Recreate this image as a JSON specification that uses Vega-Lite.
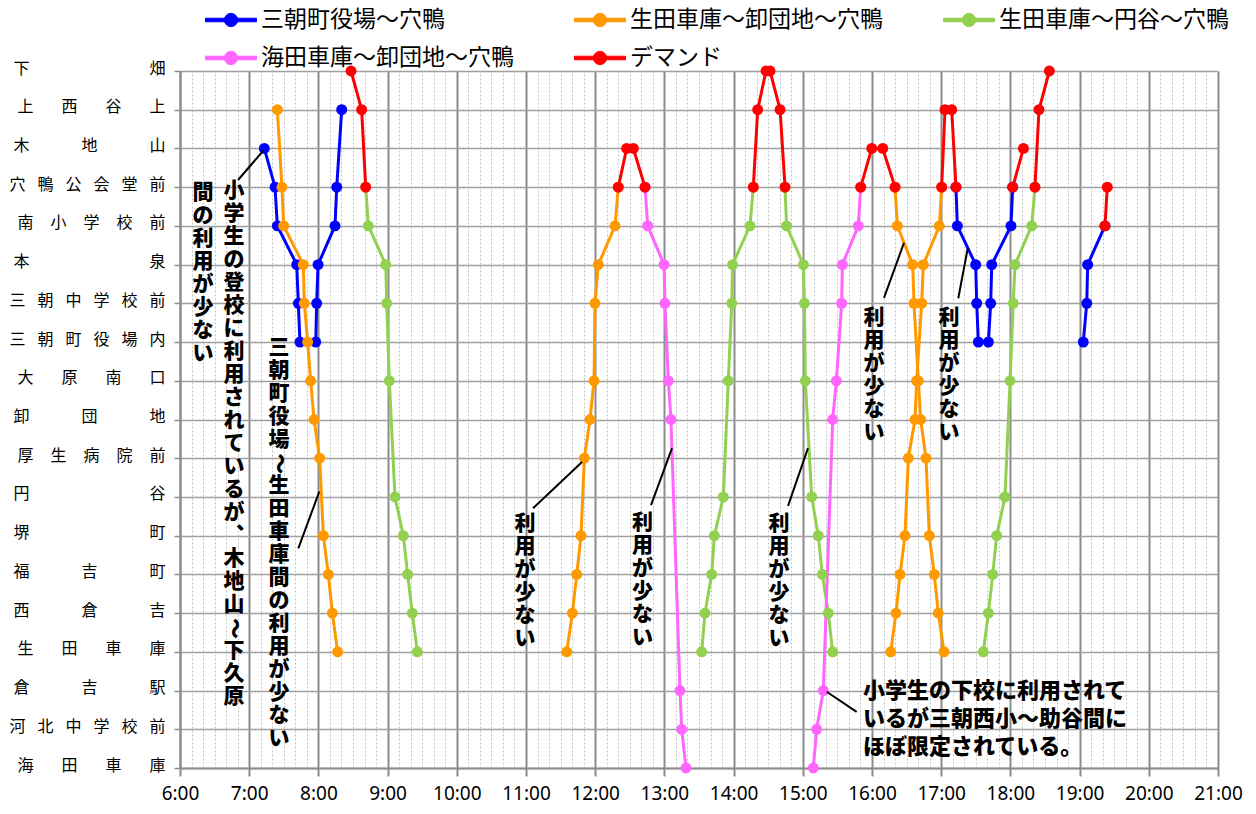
{
  "$schema": "https://vega.github.io/schema/vega-lite/v6.json",
  "width": 1038,
  "height": 697,
  "autosize": {"type": "none"},
  "padding": {"left": 180, "top": 71, "right": 38, "bottom": 46},
  "background": "white",
  "config": {"view": {"stroke": null}},
  "datasets": {
    "bus": [
      {"s": "三朝町役場～穴鴨", "trip": "b1", "t": 433.1, "st": 2},
      {"s": "三朝町役場～穴鴨", "trip": "b1", "t": 442.4, "st": 3},
      {"s": "三朝町役場～穴鴨", "trip": "b1", "t": 444.4, "st": 4},
      {"s": "三朝町役場～穴鴨", "trip": "b1", "t": 461.2, "st": 5},
      {"s": "三朝町役場～穴鴨", "trip": "b1", "t": 462.6, "st": 6},
      {"s": "三朝町役場～穴鴨", "trip": "b1", "t": 464.0, "st": 7},
      {"s": "三朝町役場～穴鴨", "trip": "b2", "t": 477.7, "st": 7},
      {"s": "三朝町役場～穴鴨", "trip": "b2", "t": 478.5, "st": 6},
      {"s": "三朝町役場～穴鴨", "trip": "b2", "t": 479.7, "st": 5},
      {"s": "三朝町役場～穴鴨", "trip": "b2", "t": 494.4, "st": 4},
      {"s": "三朝町役場～穴鴨", "trip": "b2", "t": 495.9, "st": 3},
      {"s": "三朝町役場～穴鴨", "trip": "b2", "t": 500.2, "st": 1},
      {"s": "三朝町役場～穴鴨", "trip": "b3", "t": 1032.8, "st": 3},
      {"s": "三朝町役場～穴鴨", "trip": "b3", "t": 1034.0, "st": 4},
      {"s": "三朝町役場～穴鴨", "trip": "b3", "t": 1049.9, "st": 5},
      {"s": "三朝町役場～穴鴨", "trip": "b3", "t": 1050.8, "st": 6},
      {"s": "三朝町役場～穴鴨", "trip": "b3", "t": 1052.2, "st": 7},
      {"s": "三朝町役場～穴鴨", "trip": "b4", "t": 1060.9, "st": 7},
      {"s": "三朝町役場～穴鴨", "trip": "b4", "t": 1062.9, "st": 6},
      {"s": "三朝町役場～穴鴨", "trip": "b4", "t": 1063.8, "st": 5},
      {"s": "三朝町役場～穴鴨", "trip": "b4", "t": 1080.5, "st": 4},
      {"s": "三朝町役場～穴鴨", "trip": "b4", "t": 1082.0, "st": 3},
      {"s": "三朝町役場～穴鴨", "trip": "b5", "t": 1143.2, "st": 7},
      {"s": "三朝町役場～穴鴨", "trip": "b5", "t": 1146.2, "st": 6},
      {"s": "三朝町役場～穴鴨", "trip": "b5", "t": 1147.0, "st": 5},
      {"s": "三朝町役場～穴鴨", "trip": "b5", "t": 1162.0, "st": 4},

      {"s": "生田車庫～卸団地～穴鴨", "trip": "o1", "t": 444.4, "st": 1},
      {"s": "生田車庫～卸団地～穴鴨", "trip": "o1", "t": 448.4, "st": 3},
      {"s": "生田車庫～卸団地～穴鴨", "trip": "o1", "t": 449.9, "st": 4},
      {"s": "生田車庫～卸団地～穴鴨", "trip": "o1", "t": 466.9, "st": 5},
      {"s": "生田車庫～卸団地～穴鴨", "trip": "o1", "t": 467.8, "st": 6},
      {"s": "生田車庫～卸団地～穴鴨", "trip": "o1", "t": 470.7, "st": 7},
      {"s": "生田車庫～卸団地～穴鴨", "trip": "o1", "t": 473.3, "st": 8},
      {"s": "生田車庫～卸団地～穴鴨", "trip": "o1", "t": 476.2, "st": 9},
      {"s": "生田車庫～卸団地～穴鴨", "trip": "o1", "t": 481.1, "st": 10},
      {"s": "生田車庫～卸団地～穴鴨", "trip": "o1", "t": 484.3, "st": 12},
      {"s": "生田車庫～卸団地～穴鴨", "trip": "o1", "t": 488.6, "st": 13},
      {"s": "生田車庫～卸団地～穴鴨", "trip": "o1", "t": 492.1, "st": 14},
      {"s": "生田車庫～卸団地～穴鴨", "trip": "o1", "t": 496.7, "st": 15},
      {"s": "生田車庫～卸団地～穴鴨", "trip": "o2", "t": 695.3, "st": 15},
      {"s": "生田車庫～卸団地～穴鴨", "trip": "o2", "t": 700.2, "st": 14},
      {"s": "生田車庫～卸団地～穴鴨", "trip": "o2", "t": 704.0, "st": 13},
      {"s": "生田車庫～卸団地～穴鴨", "trip": "o2", "t": 707.7, "st": 12},
      {"s": "生田車庫～卸団地～穴鴨", "trip": "o2", "t": 710.6, "st": 10},
      {"s": "生田車庫～卸団地～穴鴨", "trip": "o2", "t": 715.5, "st": 9},
      {"s": "生田車庫～卸団地～穴鴨", "trip": "o2", "t": 719.0, "st": 8},
      {"s": "生田車庫～卸団地～穴鴨", "trip": "o2", "t": 719.8, "st": 6},
      {"s": "生田車庫～卸団地～穴鴨", "trip": "o2", "t": 722.7, "st": 5},
      {"s": "生田車庫～卸団地～穴鴨", "trip": "o2", "t": 737.2, "st": 4},
      {"s": "生田車庫～卸団地～穴鴨", "trip": "o2", "t": 740.0, "st": 3},
      {"s": "生田車庫～卸団地～穴鴨", "trip": "o3", "t": 980.0, "st": 3},
      {"s": "生田車庫～卸団地～穴鴨", "trip": "o3", "t": 982.0, "st": 4},
      {"s": "生田車庫～卸団地～穴鴨", "trip": "o3", "t": 995.3, "st": 5},
      {"s": "生田車庫～卸団地～穴鴨", "trip": "o3", "t": 996.4, "st": 6},
      {"s": "生田車庫～卸団地～穴鴨", "trip": "o3", "t": 1000.2, "st": 8},
      {"s": "生田車庫～卸団地～穴鴨", "trip": "o3", "t": 1002.2, "st": 9},
      {"s": "生田車庫～卸団地～穴鴨", "trip": "o3", "t": 1006.8, "st": 10},
      {"s": "生田車庫～卸団地～穴鴨", "trip": "o3", "t": 1009.7, "st": 12},
      {"s": "生田車庫～卸団地～穴鴨", "trip": "o3", "t": 1014.0, "st": 13},
      {"s": "生田車庫～卸団地～穴鴨", "trip": "o3", "t": 1017.5, "st": 14},
      {"s": "生田車庫～卸団地～穴鴨", "trip": "o3", "t": 1022.4, "st": 15},
      {"s": "生田車庫～卸団地～穴鴨", "trip": "o4", "t": 976.2, "st": 15},
      {"s": "生田車庫～卸団地～穴鴨", "trip": "o4", "t": 980.8, "st": 14},
      {"s": "生田車庫～卸団地～穴鴨", "trip": "o4", "t": 984.3, "st": 13},
      {"s": "生田車庫～卸団地～穴鴨", "trip": "o4", "t": 988.6, "st": 12},
      {"s": "生田車庫～卸団地～穴鴨", "trip": "o4", "t": 991.5, "st": 10},
      {"s": "生田車庫～卸団地～穴鴨", "trip": "o4", "t": 997.3, "st": 9},
      {"s": "生田車庫～卸団地～穴鴨", "trip": "o4", "t": 998.7, "st": 8},
      {"s": "生田車庫～卸団地～穴鴨", "trip": "o4", "t": 1003.1, "st": 6},
      {"s": "生田車庫～卸団地～穴鴨", "trip": "o4", "t": 1004.5, "st": 5},
      {"s": "生田車庫～卸団地～穴鴨", "trip": "o4", "t": 1018.4, "st": 4},
      {"s": "生田車庫～卸団地～穴鴨", "trip": "o4", "t": 1020.4, "st": 3},

      {"s": "生田車庫～円谷～穴鴨", "trip": "g1", "t": 521.0, "st": 3},
      {"s": "生田車庫～円谷～穴鴨", "trip": "g1", "t": 523.3, "st": 4},
      {"s": "生田車庫～円谷～穴鴨", "trip": "g1", "t": 538.4, "st": 5},
      {"s": "生田車庫～円谷～穴鴨", "trip": "g1", "t": 539.2, "st": 6},
      {"s": "生田車庫～円谷～穴鴨", "trip": "g1", "t": 541.5, "st": 8},
      {"s": "生田車庫～円谷～穴鴨", "trip": "g1", "t": 546.4, "st": 11},
      {"s": "生田車庫～円谷～穴鴨", "trip": "g1", "t": 553.6, "st": 12},
      {"s": "生田車庫～円谷～穴鴨", "trip": "g1", "t": 557.4, "st": 13},
      {"s": "生田車庫～円谷～穴鴨", "trip": "g1", "t": 561.4, "st": 14},
      {"s": "生田車庫～円谷～穴鴨", "trip": "g1", "t": 565.8, "st": 15},
      {"s": "生田車庫～円谷～穴鴨", "trip": "g2", "t": 812.3, "st": 15},
      {"s": "生田車庫～円谷～穴鴨", "trip": "g2", "t": 815.2, "st": 14},
      {"s": "生田車庫～円谷～穴鴨", "trip": "g2", "t": 821.0, "st": 13},
      {"s": "生田車庫～円谷～穴鴨", "trip": "g2", "t": 823.3, "st": 12},
      {"s": "生田車庫～円谷～穴鴨", "trip": "g2", "t": 831.1, "st": 11},
      {"s": "生田車庫～円谷～穴鴨", "trip": "g2", "t": 835.4, "st": 8},
      {"s": "生田車庫～円谷～穴鴨", "trip": "g2", "t": 838.4, "st": 6},
      {"s": "生田車庫～円谷～穴鴨", "trip": "g2", "t": 839.1, "st": 5},
      {"s": "生田車庫～円谷～穴鴨", "trip": "g2", "t": 854.2, "st": 4},
      {"s": "生田車庫～円谷～穴鴨", "trip": "g2", "t": 857.1, "st": 3},
      {"s": "生田車庫～円谷～穴鴨", "trip": "g3", "t": 884.6, "st": 3},
      {"s": "生田車庫～円谷～穴鴨", "trip": "g3", "t": 885.9, "st": 4},
      {"s": "生田車庫～円谷～穴鴨", "trip": "g3", "t": 900.5, "st": 5},
      {"s": "生田車庫～円谷～穴鴨", "trip": "g3", "t": 901.4, "st": 6},
      {"s": "生田車庫～円谷～穴鴨", "trip": "g3", "t": 902.2, "st": 8},
      {"s": "生田車庫～円谷～穴鴨", "trip": "g3", "t": 907.7, "st": 11},
      {"s": "生田車庫～円谷～穴鴨", "trip": "g3", "t": 913.4, "st": 12},
      {"s": "生田車庫～円谷～穴鴨", "trip": "g3", "t": 916.9, "st": 13},
      {"s": "生田車庫～円谷～穴鴨", "trip": "g3", "t": 922.1, "st": 14},
      {"s": "生田車庫～円谷～穴鴨", "trip": "g3", "t": 925.9, "st": 15},
      {"s": "生田車庫～円谷～穴鴨", "trip": "g4", "t": 1056.5, "st": 15},
      {"s": "生田車庫～円谷～穴鴨", "trip": "g4", "t": 1060.9, "st": 14},
      {"s": "生田車庫～円谷～穴鴨", "trip": "g4", "t": 1064.7, "st": 13},
      {"s": "生田車庫～円谷～穴鴨", "trip": "g4", "t": 1068.1, "st": 12},
      {"s": "生田車庫～円谷～穴鴨", "trip": "g4", "t": 1075.3, "st": 11},
      {"s": "生田車庫～円谷～穴鴨", "trip": "g4", "t": 1079.7, "st": 8},
      {"s": "生田車庫～円谷～穴鴨", "trip": "g4", "t": 1082.5, "st": 6},
      {"s": "生田車庫～円谷～穴鴨", "trip": "g4", "t": 1084.0, "st": 5},
      {"s": "生田車庫～円谷～穴鴨", "trip": "g4", "t": 1098.5, "st": 4},
      {"s": "生田車庫～円谷～穴鴨", "trip": "g4", "t": 1101.3, "st": 3},

      {"s": "海田車庫～卸団地～穴鴨", "trip": "p1", "t": 763.2, "st": 3},
      {"s": "海田車庫～卸団地～穴鴨", "trip": "p1", "t": 765.5, "st": 4},
      {"s": "海田車庫～卸団地～穴鴨", "trip": "p1", "t": 779.7, "st": 5},
      {"s": "海田車庫～卸団地～穴鴨", "trip": "p1", "t": 780.5, "st": 6},
      {"s": "海田車庫～卸団地～穴鴨", "trip": "p1", "t": 783.4, "st": 8},
      {"s": "海田車庫～卸団地～穴鴨", "trip": "p1", "t": 785.7, "st": 9},
      {"s": "海田車庫～卸団地～穴鴨", "trip": "p1", "t": 793.5, "st": 16},
      {"s": "海田車庫～卸団地～穴鴨", "trip": "p1", "t": 795.0, "st": 17},
      {"s": "海田車庫～卸団地～穴鴨", "trip": "p1", "t": 798.7, "st": 18},
      {"s": "海田車庫～卸団地～穴鴨", "trip": "p2", "t": 909.1, "st": 18},
      {"s": "海田車庫～卸団地～穴鴨", "trip": "p2", "t": 912.0, "st": 17},
      {"s": "海田車庫～卸団地～穴鴨", "trip": "p2", "t": 917.8, "st": 16},
      {"s": "海田車庫～卸団地～穴鴨", "trip": "p2", "t": 925.9, "st": 9},
      {"s": "海田車庫～卸団地～穴鴨", "trip": "p2", "t": 929.1, "st": 8},
      {"s": "海田車庫～卸団地～穴鴨", "trip": "p2", "t": 933.7, "st": 6},
      {"s": "海田車庫～卸団地～穴鴨", "trip": "p2", "t": 934.3, "st": 5},
      {"s": "海田車庫～卸団地～穴鴨", "trip": "p2", "t": 948.1, "st": 4},
      {"s": "海田車庫～卸団地～穴鴨", "trip": "p2", "t": 950.2, "st": 3},

      {"s": "デマンド", "trip": "r1", "t": 508.3, "st": 0},
      {"s": "デマンド", "trip": "r1", "t": 517.5, "st": 1},
      {"s": "デマンド", "trip": "r1", "t": 521.0, "st": 3},
      {"s": "デマンド", "trip": "r2", "t": 740.0, "st": 3},
      {"s": "デマンド", "trip": "r2", "t": 747.3, "st": 2},
      {"s": "デマンド", "trip": "r2", "t": 753.1, "st": 2},
      {"s": "デマンド", "trip": "r2", "t": 763.2, "st": 3},
      {"s": "デマンド", "trip": "r3", "t": 857.1, "st": 3},
      {"s": "デマンド", "trip": "r3", "t": 860.9, "st": 1},
      {"s": "デマンド", "trip": "r3", "t": 868.1, "st": 0},
      {"s": "デマンド", "trip": "r3", "t": 871.6, "st": 0},
      {"s": "デマンド", "trip": "r3", "t": 880.3, "st": 1},
      {"s": "デマンド", "trip": "r3", "t": 884.6, "st": 3},
      {"s": "デマンド", "trip": "r4", "t": 950.2, "st": 3},
      {"s": "デマンド", "trip": "r4", "t": 959.8, "st": 2},
      {"s": "デマンド", "trip": "r4", "t": 969.3, "st": 2},
      {"s": "デマンド", "trip": "r4", "t": 980.0, "st": 3},
      {"s": "デマンド", "trip": "r5", "t": 1020.4, "st": 3},
      {"s": "デマンド", "trip": "r5", "t": 1023.3, "st": 1},
      {"s": "デマンド", "trip": "r5", "t": 1029.1, "st": 1},
      {"s": "デマンド", "trip": "r5", "t": 1032.8, "st": 3},
      {"s": "デマンド", "trip": "r6", "t": 1082.0, "st": 3},
      {"s": "デマンド", "trip": "r6", "t": 1091.3, "st": 2},
      {"s": "デマンド", "trip": "r7", "t": 1101.3, "st": 3},
      {"s": "デマンド", "trip": "r7", "t": 1104.8, "st": 1},
      {"s": "デマンド", "trip": "r7", "t": 1113.8, "st": 0},
      {"s": "デマンド", "trip": "r8", "t": 1162.0, "st": 4},
      {"s": "デマンド", "trip": "r8", "t": 1164.0, "st": 3}
    ],
    "vnotes": [
      {"t": 406.8, "st": 2.81, "txt": "小\n学\n生\nの\n登\n校\nに\n利\n用\nさ\nれ\nて\nい\nる\nが\n︑\n木\n地\n山"},
      {"t": 406.8, "st": 14.69, "txt": "下\n久\n原"},
      {"t": 379.9, "st": 2.86, "txt": "間\nの\n利\n用\nが\n少\nな\nい"},
      {"t": 445.8, "st": 6.87, "txt": "三\n朝\n町\n役\n場"},
      {"t": 445.8, "st": 10.43, "txt": "生\n田\n車\n庫\n間\nの\n利\n用\nが\n少\nな\nい"},
      {"t": 659.1, "st": 11.41, "txt": "利\n用\nが\n少\nな\nい"},
      {"t": 761.0, "st": 11.39, "txt": "利\n用\nが\n少\nな\nい"},
      {"t": 879.4, "st": 11.41, "txt": "利\n用\nが\n少\nな\nい"},
      {"t": 961.7, "st": 6.09, "txt": "利\n用\nが\n少\nな\nい"},
      {"t": 1026.8, "st": 6.09, "txt": "利\n用\nが\n少\nな\nい"}
    ],
    "tildes": [
      {"t": 406.8, "st": 14.40, "txt": "～"},
      {"t": 445.8, "st": 10.14, "txt": "～"}
    ],
    "hnotes": [
      {"t": 952.2, "st": 15.75, "txt": "小学生の下校に利用されて\nいるが三朝西小～助谷間に\nほぼ限定されている。"}
    ],
    "leaders": [
      {"t": 410.3, "st": 2.815, "t2": 432.2, "st2": 2.058},
      {"t": 462.6, "st": 12.33, "t2": 480.8, "st2": 10.86},
      {"t": 666.1, "st": 11.29, "t2": 708.6, "st2": 10.10},
      {"t": 768.4, "st": 11.21, "t2": 786.6, "st2": 9.74},
      {"t": 887.2, "st": 11.23, "t2": 904.5, "st2": 9.74},
      {"t": 970.4, "st": 5.86, "t2": 987.7, "st2": 4.44},
      {"t": 1034.8, "st": 5.87, "t2": 1043.0, "st2": 4.58},
      {"t": 946.7, "st": 16.55, "t2": 920.7, "st2": 16.03}
    ]
  },
  "encoding": {
    "x": {
      "field": "t",
      "type": "quantitative",
      "scale": {"domain": [360, 1260], "nice": false, "zero": false},
      "axis": {
        "title": null,
        "tickCount": 90,
        "grid": true,
        "gridColor": {"condition": {"test": "datum.value % 60 === 0", "value": "#8c8c8c"}, "value": "#c4c4c4"},
        "gridDash": {"condition": {"test": "datum.value % 60 === 0", "value": []}, "value": [2, 2]},
        "gridWidth": {"condition": {"test": "datum.value % 60 === 0", "value": 2}, "value": 1},
        "tickColor": {"condition": {"test": "datum.value % 60 === 0", "value": "#8c8c8c"}, "value": "transparent"},
        "tickSize": 8,
        "tickWidth": 2,
        "domainColor": "#8c8c8c",
        "domainWidth": 2,
        "labelExpr": "datum.value % 60 === 0 ? floor(datum.value / 60) + ':00' : ''",
        "labelOverlap": false,
        "labelFlush": false,
        "labelBound": false,
        "labelFont": "Noto Sans",
        "labelFontSize": 19,
        "labelColor": "#000000",
        "labelPadding": 8
      }
    },
    "y": {
      "field": "st",
      "type": "quantitative",
      "scale": {"domain": [0, 18], "reverse": true, "nice": false, "zero": false},
      "axis": {
        "title": null,
        "values": [0, 1, 2, 3, 4, 5, 6, 7, 8, 9, 10, 11, 12, 13, 14, 15, 16, 17, 18],
        "grid": true,
        "gridColor": "#a0a0a0",
        "gridWidth": 1.5,
        "tickColor": "#8c8c8c",
        "tickSize": 6,
        "tickWidth": 1.5,
        "domainColor": "#8c8c8c",
        "domainWidth": 2,
        "labelFont": "Noto Sans CJK JP",
        "labelFontSize": 16,
        "labelColor": "#000000",
        "labelPadding": 9,
        "labelOffset": -3,
        "labelExpr": "['下\u3000\u3000\u3000\u3000\u3000\u3000\u3000\u2002畑','上\u3000\u2002\u2005西\u3000\u2002\u2005谷\u3000\u2002\u2005上','木\u3000\u3000\u3000\u2005地\u3000\u3000\u3000\u2005山','穴\u2002\u2005鴨\u2002\u2005公\u2002\u2005会\u2002\u2005堂\u2002\u2005前','南\u3000\u200a小\u3000\u200a学\u3000\u200a校\u3000\u200a前','本\u3000\u3000\u3000\u3000\u3000\u3000\u3000\u2002泉','三\u2002\u2005朝\u2002\u2005中\u2002\u2005学\u2002\u2005校\u2002\u2005前','三\u2002\u2005朝\u2002\u2005町\u2002\u2005役\u2002\u2005場\u2002\u2005内','大\u3000\u2002\u2005原\u3000\u2002\u2005南\u3000\u2002\u2005口','卸\u3000\u3000\u3000\u2005団\u3000\u3000\u3000\u2005地','厚\u3000\u200a生\u3000\u200a病\u3000\u200a院\u3000\u200a前','円\u3000\u3000\u3000\u3000\u3000\u3000\u3000\u2002谷','堺\u3000\u3000\u3000\u3000\u3000\u3000\u3000\u2002町','福\u3000\u3000\u3000\u2005吉\u3000\u3000\u3000\u2005町','西\u3000\u3000\u3000\u2005倉\u3000\u3000\u3000\u2005吉','生\u3000\u2002\u2005田\u3000\u2002\u2005車\u3000\u2002\u2005庫','倉\u3000\u3000\u3000\u2005吉\u3000\u3000\u3000\u2005駅','河\u2002\u2005北\u2002\u2005中\u2002\u2005学\u2002\u2005校\u2002\u2005前','海\u3000\u2002\u2005田\u3000\u2002\u2005車\u3000\u2002\u2005庫'][datum.value]"
      }
    }
  },
  "layer": [
    {
      "data": {"name": "bus"},
      "mark": {"type": "line", "strokeWidth": 3},
      "encoding": {
        "color": {
          "field": "s",
          "type": "nominal",
          "scale": {
            "domain": ["三朝町役場～穴鴨", "生田車庫～卸団地～穴鴨", "生田車庫～円谷～穴鴨", "海田車庫～卸団地～穴鴨", "デマンド"],
            "range": ["#0000ff", "#ff9900", "#92d050", "#ff66ff", "#ff0000"]
          },
          "legend": {
            "title": null,
            "orient": "none",
            "legendX": 25,
            "legendY": -77,
            "direction": "horizontal",
            "columns": 3,
            "gridAlign": "all",
            "symbolType": "M-1,-0.07L1,-0.07L1,0.07L-1,0.07Z M0.26,0A0.26,0.26 0 1,1 -0.26,0A0.26,0.26 0 1,1 0.26,0Z",
            "symbolSize": 2601,
            "symbolOpacity": 1,
            "symbolStrokeWidth": 1,
            "labelFont": "Noto Sans CJK JP",
            "labelFontSize": 23,
            "labelColor": "#000000",
            "labelLimit": 500,
            "labelOffset": 4,
            "columnPadding": 58,
            "rowPadding": -8
          }
        },
        "detail": {"field": "trip"}
      }
    },
    {
      "data": {"name": "bus"},
      "mark": {"type": "point", "filled": true, "size": 120, "opacity": 1},
      "encoding": {
        "color": {"field": "s", "type": "nominal"}
      }
    },
    {
      "data": {"name": "leaders"},
      "mark": {"type": "rule", "color": "#000000", "strokeWidth": 2},
      "encoding": {
        "x2": {"field": "t2"},
        "y2": {"field": "st2"}
      }
    },
    {
      "data": {"name": "vnotes"},
      "mark": {"type": "text", "align": "center", "baseline": "top", "lineBreak": "\n", "lineHeight": 23, "font": "Noto Sans CJK JP", "fontSize": 21, "fontWeight": 900, "color": "#000000"},
      "encoding": {"text": {"field": "txt"}}
    },
    {
      "data": {"name": "tildes"},
      "mark": {"type": "text", "align": "center", "baseline": "middle", "angle": 90, "font": "Noto Sans CJK JP", "fontSize": 21, "fontWeight": 900, "color": "#000000"},
      "encoding": {"text": {"field": "txt"}}
    },
    {
      "data": {"name": "hnotes"},
      "mark": {"type": "text", "align": "left", "baseline": "top", "lineBreak": "\n", "lineHeight": 28, "font": "Noto Sans CJK JP", "fontSize": 22, "fontWeight": 900, "color": "#000000"},
      "encoding": {"text": {"field": "txt"}}
    }
  ]
}
